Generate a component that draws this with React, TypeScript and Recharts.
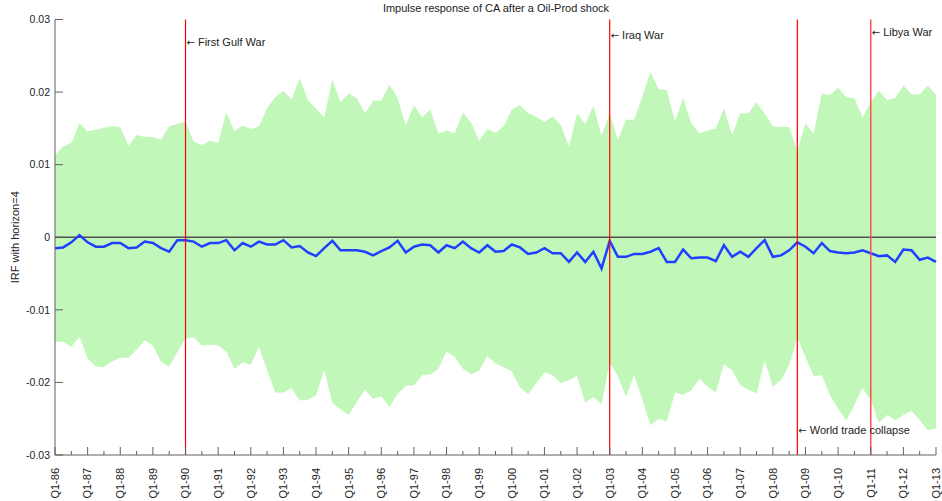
import React from 'react';
import { ComposedChart, Area, Line, XAxis, YAxis, ReferenceLine, ReferenceDot } from 'recharts';

const upper = [
  0.0113, 0.0125, 0.0130, 0.0157, 0.0146, 0.0148, 0.0151, 0.0153, 0.0152, 0.0126,
  0.0141, 0.0138, 0.0138, 0.0135, 0.0153, 0.0156, 0.0159, 0.0132, 0.0127, 0.0133,
  0.0130, 0.0172, 0.0146, 0.0154, 0.0149, 0.0153, 0.0178, 0.0193, 0.0202, 0.0190,
  0.0219, 0.0189, 0.0177, 0.0165, 0.0217, 0.0186, 0.0198, 0.0192, 0.0171, 0.0188,
  0.0188, 0.0210, 0.0192, 0.0154, 0.0182, 0.0165, 0.0176, 0.0143, 0.0147, 0.0143,
  0.0172, 0.0158, 0.0133, 0.0149, 0.0144, 0.0153, 0.0176, 0.0182, 0.0171, 0.0166,
  0.0159, 0.0166, 0.0155, 0.0125, 0.0171, 0.0156, 0.0181, 0.0140, 0.0171, 0.0134,
  0.0162, 0.0162, 0.0194, 0.0228, 0.0204, 0.0203, 0.0159, 0.0192, 0.0157, 0.0143,
  0.0147, 0.0150, 0.0178, 0.0141, 0.0171, 0.0171, 0.0186, 0.0170, 0.0153, 0.0152,
  0.0152, 0.0119, 0.0157, 0.0143, 0.0198, 0.0196, 0.0206, 0.0193, 0.0192, 0.0165,
  0.0186, 0.0202, 0.0189, 0.0192, 0.0209, 0.0197, 0.0197, 0.0209, 0.0196,
];

const lower = [
  -0.0144, -0.0144, -0.0151, -0.0137, -0.0167, -0.0178, -0.0179, -0.0171, -0.0166, -0.0166,
  -0.0155, -0.0142, -0.0149, -0.0172, -0.0178, -0.0158, -0.0139, -0.0138, -0.0149, -0.0148,
  -0.0149, -0.0157, -0.0182, -0.0172, -0.0176, -0.0151, -0.0183, -0.0214, -0.0214, -0.0208,
  -0.0225, -0.0224, -0.0218, -0.0183, -0.0228, -0.0237, -0.0245, -0.0227, -0.0210, -0.0223,
  -0.0219, -0.0234, -0.0216, -0.0205, -0.0204, -0.0190, -0.0189, -0.0181, -0.0157, -0.0165,
  -0.0181, -0.0189, -0.0184, -0.0164, -0.0174, -0.0179, -0.0185, -0.0207, -0.0216, -0.0201,
  -0.0186, -0.0190, -0.0201, -0.0197, -0.0191, -0.0228, -0.0220, -0.0230, -0.0173, -0.0191,
  -0.0220, -0.0190, -0.0224, -0.0259, -0.0250, -0.0254, -0.0214, -0.0217, -0.0211, -0.0195,
  -0.0206, -0.0214, -0.0175, -0.0183, -0.0204, -0.0210, -0.0215, -0.0170, -0.0206, -0.0197,
  -0.0176, -0.0138, -0.0165, -0.0191, -0.0190, -0.0218, -0.0236, -0.0253, -0.0231, -0.0208,
  -0.0224, -0.0256, -0.0245, -0.0252, -0.0245, -0.0239, -0.0252, -0.0266, -0.0263,
];

const median = [
  -0.0015, -0.0014, -0.0007, 0.0003, -0.0007, -0.0013, -0.0013, -0.0008, -0.0008, -0.0015,
  -0.0014, -0.0006, -0.0008, -0.0015, -0.0020, -0.0004, -0.0004, -0.0006, -0.0013, -0.0008,
  -0.0008, -0.0004, -0.0018, -0.0008, -0.0013, -0.0006, -0.0010, -0.0010, -0.0004, -0.0014,
  -0.0012, -0.0021, -0.0026, -0.0015, -0.0005, -0.0018, -0.0018, -0.0018, -0.0020, -0.0025,
  -0.0019, -0.0014, -0.0005, -0.0021, -0.0013, -0.0010, -0.0011, -0.0021, -0.0011, -0.0015,
  -0.0006, -0.0015, -0.0021, -0.0011, -0.0020, -0.0019, -0.0010, -0.0014, -0.0023, -0.0021,
  -0.0015, -0.0022, -0.0022, -0.0034, -0.0021, -0.0034, -0.0020, -0.0043, -0.0005, -0.0027,
  -0.0027, -0.0023, -0.0023, -0.0020, -0.0015, -0.0034, -0.0034, -0.0017, -0.0029, -0.0028,
  -0.0028, -0.0033, -0.0011, -0.0027, -0.0020, -0.0027, -0.0015, -0.0004, -0.0027, -0.0025,
  -0.0018, -0.0007, -0.0013, -0.0022, -0.0008, -0.0019, -0.0021, -0.0022, -0.0021, -0.0018,
  -0.0022, -0.0026, -0.0025, -0.0034, -0.0017, -0.0018, -0.0031, -0.0028, -0.0034,
];

const yearLabels = [
  'Q1-86', 'Q1-87', 'Q1-88', 'Q1-89', 'Q1-90', 'Q1-91', 'Q1-92', 'Q1-93', 'Q1-94', 'Q1-95',
  'Q1-96', 'Q1-97', 'Q1-98', 'Q1-99', 'Q1-00', 'Q1-01', 'Q1-02', 'Q1-03', 'Q1-04', 'Q1-05',
  'Q1-06', 'Q1-07', 'Q1-08', 'Q1-09', 'Q1-10', 'Q1-11', 'Q1-12', 'Q1-13',
];

const yTicks = [-0.03, -0.02, -0.01, 0, 0.01, 0.02, 0.03];

const eventQuarters = [16, 68, 91, 100];
const eventNames = ['First Gulf War', 'Iraq War', 'World trade collapse', 'Libya War'];
const eventLabelY = [0.0269, 0.0279, -0.0266, 0.0282];

const title = 'Impulse response of CA after a Oil-Prod shock';
const yLabel = 'IRF with horizon=4';

const data = median.map((m, i) => ({ t: i, band: [lower[i], upper[i]], med: m }));
const xTicks = data.filter((d) => d.t % 2 === 0).map((d) => d.t);

const FONT = "'Liberation Sans', Arial, sans-serif";
const TEXT = '#222';
const AXIS = '#606060';
const RED = '#ff0000';

const XTick = (props: any) => {
  const { x, y, payload } = props;
  const t = payload.value;
  const major = t % 4 === 0;
  return (
    <g>
      <line x1={x} x2={x} y1={y} y2={y - (major ? 8 : 4)} stroke={AXIS} strokeWidth={1} />
      {major && (
        <text
          transform={`translate(${x},${y + 13}) rotate(-90)`}
          textAnchor="end"
          dy="0.35em"
          fontSize={11}
          fontFamily={FONT}
          fill={TEXT}
        >
          {yearLabels[t / 4]}
        </text>
      )}
    </g>
  );
};

const YTick = (props: any) => {
  const { x, y, payload } = props;
  return (
    <g>
      <line x1={x} x2={x + 8} y1={y} y2={y} stroke={AXIS} strokeWidth={1} />
      <text x={x - 5} y={y} dy="0.35em" textAnchor="end" fontSize={10.5} fontFamily={FONT} fill={TEXT}>
        {String(payload.value)}
      </text>
    </g>
  );
};

const makeLabel = (name: string) => (p: any) => (
  <text x={p.cx + 1} y={p.cy} dy="0.35em" fontSize={11} fontFamily={FONT} fill={TEXT}>
    <tspan fontFamily="'DejaVu Sans', sans-serif" fontSize={10}>{'\u2190'}</tspan>
    <tspan dx={3}>{name}</tspan>
  </text>
);

export default function App() {
  return (
    <div style={{ position: 'absolute', left: 0, top: 0, width: 942, height: 501, background: '#fff' }}>
      <div
        style={{
          position: 'absolute',
          left: 0,
          width: 992,
          top: 1,
          textAlign: 'center',
          fontFamily: FONT,
          fontSize: 11,
          color: TEXT,
          lineHeight: '14px',
        }}
      >
        {title}
      </div>
      <ComposedChart
        width={942}
        height={501}
        data={data}
        margin={{ top: 19.5, right: 6, bottom: 0, left: 0 }}
      >
        <XAxis
          dataKey="t"
          type="number"
          domain={[0, 108]}
          ticks={xTicks}
          interval={0}
          height={46}
          tickSize={0}
          tickMargin={0}
          tickLine={false}
          axisLine={{ stroke: AXIS, strokeWidth: 1 }}
          tick={<XTick />}
        />
        <YAxis
          type="number"
          domain={[-0.03, 0.03]}
          ticks={yTicks}
          interval={0}
          width={55}
          tickSize={0}
          tickMargin={0}
          tickLine={false}
          axisLine={{ stroke: AXIS, strokeWidth: 1 }}
          tick={<YTick />}
          label={{
            content: (p: any) => (
              <text
                transform={`translate(15,${p.viewBox.y + p.viewBox.height / 2}) rotate(-90)`}
                textAnchor="middle"
                dy="0.35em"
                fontSize={11}
                fontFamily={FONT}
                fill={TEXT}
              >
                {yLabel}
              </text>
            ),
          }}
        />
        <Area
          dataKey="band"
          type="linear"
          stroke="none"
          fill="#c2f7ba"
          fillOpacity={1}
          isAnimationActive={false}
          activeDot={false}
        />
        <ReferenceLine y={0} stroke="#505050" strokeWidth={1.5} />
        <Line
          dataKey="med"
          type="linear"
          stroke="#2040ff"
          strokeWidth={2.5}
          dot={false}
          activeDot={false}
          isAnimationActive={false}
        />
        <ReferenceDot x={eventQuarters[0]} y={eventLabelY[0]} r={0} shape={makeLabel(eventNames[0])} />
        <ReferenceDot x={eventQuarters[1]} y={eventLabelY[1]} r={0} shape={makeLabel(eventNames[1])} />
        <ReferenceDot x={eventQuarters[2]} y={eventLabelY[2]} r={0} shape={makeLabel(eventNames[2])} />
        <ReferenceDot x={eventQuarters[3]} y={eventLabelY[3]} r={0} shape={makeLabel(eventNames[3])} />
        <ReferenceLine x={eventQuarters[0]} stroke={RED} strokeWidth={1.2} />
        <ReferenceLine x={eventQuarters[1]} stroke={RED} strokeWidth={1.2} />
        <ReferenceLine x={eventQuarters[2]} stroke={RED} strokeWidth={1.2} />
        <ReferenceLine x={eventQuarters[3]} stroke="#ff5050" strokeWidth={1.5} />
      </ComposedChart>
    </div>
  );
}
